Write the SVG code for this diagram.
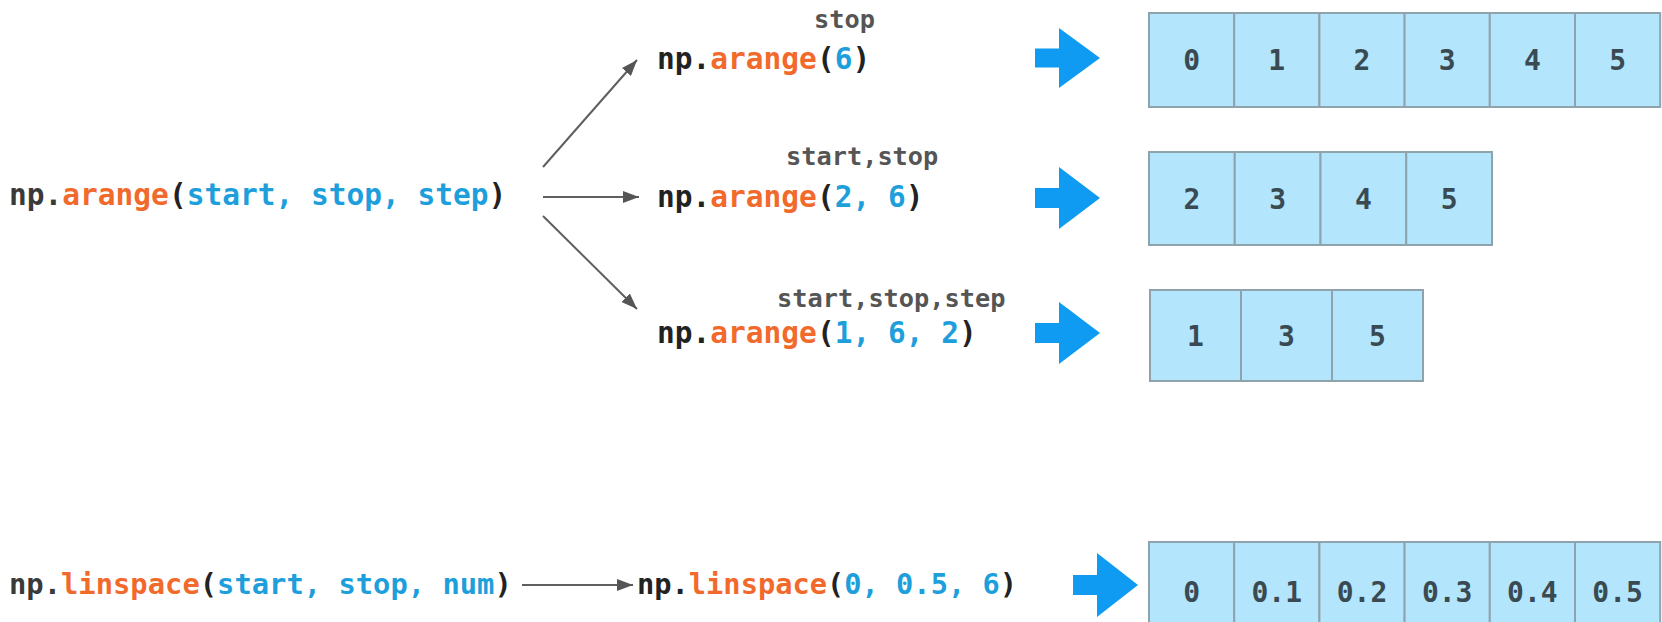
<svg xmlns="http://www.w3.org/2000/svg" width="1662" height="622" viewBox="0 0 1662 622">
  <style>
    .code { font-family: "DejaVu Sans Mono", "Liberation Mono", monospace; font-weight: bold; font-size: 29.5px; fill: #222222; }
    .fn { fill: #f26a2b; }
    .arg { fill: #1e9fdb; }
    .dim { fill: #3a3a3a; }
    .lbl { font-family: "DejaVu Sans Mono", "Liberation Mono", monospace; font-weight: bold; font-size: 25.3px; fill: #555555; }
    .cell { fill: #b3e5fc; stroke: #8fa3ad; stroke-width: 2; }
    .num { font-family: "DejaVu Sans Mono", "Liberation Mono", monospace; font-weight: bold; font-size: 28px; fill: #3a4a52; text-anchor: middle; }
    .conn { stroke: #5f5f5f; stroke-width: 2; fill: none; marker-end: url(#head); }
    .big { fill: #0f9bf2; }
  </style>
  <defs>
    <marker id="head" viewBox="0 0 16 12" refX="16" refY="6" markerWidth="16" markerHeight="12" markerUnits="userSpaceOnUse" orient="auto">
      <path d="M0,0 L16,6 L0,12 z" fill="#555555"/>
    </marker>
  </defs>

  <g id="arange-signature">
    <text class="code" x="9" y="205"><tspan class="dim">np.</tspan><tspan class="fn">arange</tspan><tspan>(</tspan><tspan class="arg">start, stop, step</tspan><tspan>)</tspan></text>
  </g>

  <g id="arange-6">
    <text class="lbl" x="814" y="28">stop</text>
    <text class="code" x="657" y="69">np.<tspan class="fn">arange</tspan>(<tspan class="arg">6</tspan>)</text>
  </g>
  <g id="arange-2-6">
    <text class="lbl" x="786" y="165">start,stop</text>
    <text class="code" x="657" y="207">np.<tspan class="fn">arange</tspan>(<tspan class="arg">2, 6</tspan>)</text>
  </g>
  <g id="arange-1-6-2">
    <text class="lbl" x="777" y="307">start,stop,step</text>
    <text class="code" x="657" y="343">np.<tspan class="fn">arange</tspan>(<tspan class="arg">1, 6, 2</tspan>)</text>
  </g>

  <g id="linspace-signature">
    <text class="code" x="9" y="594" style="font-size:28.8px"><tspan class="dim">np.</tspan><tspan class="fn">linspace</tspan><tspan>(</tspan><tspan class="arg">start, stop, num</tspan><tspan>)</tspan></text>
  </g>
  <g id="linspace-call">
    <text class="code" x="637" y="594" style="font-size:28.7px">np.<tspan class="fn">linspace</tspan>(<tspan class="arg">0, 0.5, 6</tspan>)</text>
  </g>

  <g id="connectors">
    <line class="conn" x1="543" y1="167" x2="637" y2="60"/>
    <line class="conn" x1="543" y1="197" x2="639" y2="197"/>
    <line class="conn" x1="543" y1="216" x2="637" y2="309"/>
    <line class="conn" x1="522" y1="585" x2="633" y2="585"/>
    <polygon class="big" points="1035,48.5 1059,48.5 1059,28 1100,58 1059,88 1059,67.5 1035,67.5"/>
    <polygon class="big" points="1035,188 1059,188 1059,167 1100,198 1059,229 1059,208 1035,208"/>
    <polygon class="big" points="1035,323 1059,323 1059,302 1100,333 1059,364 1059,343 1035,343"/>
    <polygon class="big" points="1073,575 1097,575 1097,553 1138,585 1097,617 1097,595 1073,595"/>
  </g>

  <g id="array-arange-6">
    <rect class="cell" x="1149" y="13" width="85.2" height="94"/>
    <rect class="cell" x="1234.2" y="13" width="85.2" height="94"/>
    <rect class="cell" x="1319.4" y="13" width="85.2" height="94"/>
    <rect class="cell" x="1404.6" y="13" width="85.2" height="94"/>
    <rect class="cell" x="1489.8" y="13" width="85.2" height="94"/>
    <rect class="cell" x="1575" y="13" width="85.2" height="94"/>
    <text class="num" x="1191.6" y="70">0</text>
    <text class="num" x="1276.8" y="70">1</text>
    <text class="num" x="1362" y="70">2</text>
    <text class="num" x="1447.2" y="70">3</text>
    <text class="num" x="1532.4" y="70">4</text>
    <text class="num" x="1617.6" y="70">5</text>
  </g>

  <g id="array-arange-2-6">
    <rect class="cell" x="1149" y="152" width="85.75" height="93"/>
    <rect class="cell" x="1234.75" y="152" width="85.75" height="93"/>
    <rect class="cell" x="1320.5" y="152" width="85.75" height="93"/>
    <rect class="cell" x="1406.25" y="152" width="85.75" height="93"/>
    <text class="num" x="1191.9" y="209">2</text>
    <text class="num" x="1277.6" y="209">3</text>
    <text class="num" x="1363.4" y="209">4</text>
    <text class="num" x="1449.1" y="209">5</text>
  </g>

  <g id="array-arange-1-6-2">
    <rect class="cell" x="1150" y="290" width="91" height="91"/>
    <rect class="cell" x="1241" y="290" width="91" height="91"/>
    <rect class="cell" x="1332" y="290" width="91" height="91"/>
    <text class="num" x="1195.5" y="346">1</text>
    <text class="num" x="1286.5" y="346">3</text>
    <text class="num" x="1377.5" y="346">5</text>
  </g>

  <g id="array-linspace">
    <rect class="cell" x="1149" y="542" width="85.2" height="96"/>
    <rect class="cell" x="1234.2" y="542" width="85.2" height="96"/>
    <rect class="cell" x="1319.4" y="542" width="85.2" height="96"/>
    <rect class="cell" x="1404.6" y="542" width="85.2" height="96"/>
    <rect class="cell" x="1489.8" y="542" width="85.2" height="96"/>
    <rect class="cell" x="1575" y="542" width="85.2" height="96"/>
    <text class="num" x="1191.6" y="602">0</text>
    <text class="num" x="1276.8" y="602">0.1</text>
    <text class="num" x="1362" y="602">0.2</text>
    <text class="num" x="1447.2" y="602">0.3</text>
    <text class="num" x="1532.4" y="602">0.4</text>
    <text class="num" x="1617.6" y="602">0.5</text>
  </g>
</svg>
